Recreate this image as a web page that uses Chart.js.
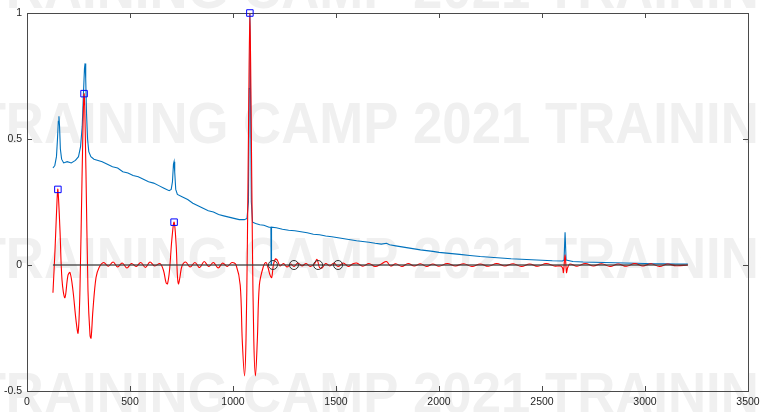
<!DOCTYPE html>
<html>
<head>
<meta charset="utf-8">
<script src="https://cdn.jsdelivr.net/npm/chart.js@4"></script>
<style>
  body { margin: 0; background: #fff; }
  #wrap { width: 761px; height: 412px; position: relative; }
</style>
</head>
<body>
<div id="wrap"><canvas id="chart"></canvas></div>
<script>
// values
const blueX = [126, 135, 143, 148, 152, 155, 158, 162, 168, 178, 195, 215, 235, 250, 260, 268, 274, 279, 282, 285, 289, 294, 300, 310, 325, 345, 365, 390, 415, 440, 465, 490, 515, 540, 565, 590, 615, 640, 665, 690, 700, 706, 711, 714, 717, 722, 730, 755, 780, 805, 830, 855, 880, 905, 930, 955, 980, 1005, 1030, 1055, 1068, 1075, 1079, 1082, 1085, 1089, 1095, 1110, 1130, 1150, 1175, 1184, 1185, 1187, 1210, 1240, 1270, 1300, 1330, 1360, 1390, 1420, 1450, 1480, 1510, 1540, 1570, 1600, 1630, 1660, 1690, 1720, 1745, 1760, 1790, 1820, 1850, 1880, 1910, 1940, 1970, 2000, 2050, 2100, 2150, 2200, 2250, 2300, 2350, 2400, 2450, 2500, 2550, 2600, 2607, 2612, 2617, 2650, 2700, 2750, 2800, 2850, 2900, 2950, 3000, 3050, 3100, 3150, 3208];
const blueY = [0.385, 0.395, 0.43, 0.50, 0.57, 0.59, 0.55, 0.46, 0.42, 0.405, 0.41, 0.405, 0.415, 0.43, 0.47, 0.55, 0.68, 0.78, 0.80, 0.74, 0.60, 0.50, 0.45, 0.43, 0.42, 0.415, 0.41, 0.40, 0.39, 0.385, 0.37, 0.365, 0.355, 0.35, 0.34, 0.33, 0.325, 0.315, 0.305, 0.295, 0.30, 0.33, 0.40, 0.41, 0.37, 0.30, 0.28, 0.27, 0.26, 0.245, 0.235, 0.225, 0.215, 0.21, 0.20, 0.195, 0.19, 0.185, 0.18, 0.18, 0.185, 0.25, 0.70, 1.0, 0.70, 0.25, 0.17, 0.165, 0.16, 0.158, 0.15, 0.15, 0.0, 0.15, 0.148, 0.142, 0.138, 0.136, 0.132, 0.128, 0.122, 0.12, 0.115, 0.112, 0.108, 0.104, 0.10, 0.096, 0.093, 0.09, 0.086, 0.083, 0.086, 0.08, 0.076, 0.072, 0.068, 0.064, 0.06, 0.057, 0.054, 0.05, 0.046, 0.042, 0.038, 0.034, 0.031, 0.028, 0.025, 0.023, 0.021, 0.019, 0.017, 0.016, 0.02, 0.13, 0.02, 0.014, 0.012, 0.011, 0.01, 0.009, 0.008, 0.007, 0.006, 0.005, 0.005, 0.004, 0.004];

const redX = [126, 136, 146, 150, 160, 170, 184, 199, 209, 223, 238, 248, 257, 267, 277, 286, 296, 306, 311, 320, 335, 350, 372, 395, 418, 440, 462, 485, 507, 530, 552, 575, 597, 620, 645, 662, 675, 682, 692, 703, 714, 724, 730, 735, 742, 752, 770, 792, 815, 838, 860, 882, 905, 928, 950, 972, 995, 1015, 1035, 1045, 1056, 1063, 1070, 1076, 1082, 1088, 1094, 1101, 1109, 1118, 1128, 1146, 1160, 1170, 1180, 1188, 1196, 1206, 1216, 1228, 1245, 1262, 1280, 1296, 1315, 1335, 1355, 1375, 1395, 1408, 1420, 1432, 1450, 1470, 1490, 1510, 1535, 1560, 1580, 1600, 1630, 1660, 1690, 1720, 1745, 1765, 1790, 1820, 1850, 1880, 1910, 1940, 1970, 2000, 2040, 2080, 2120, 2160, 2200, 2240, 2280, 2320, 2360, 2400, 2440, 2480, 2520, 2560, 2590, 2600, 2604, 2612, 2619, 2624, 2635, 2670, 2710, 2750, 2790, 2830, 2870, 2910, 2950, 2990, 3030, 3070, 3110, 3150, 3208];
const redY = [-0.11, 0.06, 0.26, 0.30, 0.14, -0.06, -0.13, -0.04, -0.03, -0.10, -0.22, -0.27, -0.10, 0.34, 0.68, 0.38, -0.10, -0.28, -0.29, -0.18, -0.05, -0.01, 0.01, -0.005, 0.012, -0.008, 0.008, -0.012, 0.006, -0.006, 0.01, -0.01, 0.012, -0.004, 0.006, -0.02, -0.07, -0.075, -0.02, 0.10, 0.17, 0.08, -0.04, -0.075, -0.05, -0.005, 0.012, -0.008, 0.01, -0.01, 0.014, -0.006, 0.01, -0.012, 0.008, -0.006, 0.01, 0.0, -0.08, -0.30, -0.44, -0.30, 0.10, 0.60, 1.0, 0.60, 0.10, -0.30, -0.44, -0.30, -0.08, -0.01, 0.01, -0.01, -0.04, -0.05, 0.0, 0.024, 0.018, -0.004, 0.006, -0.008, 0.004, -0.006, 0.008, -0.004, 0.006, -0.006, 0.004, 0.022, -0.01, -0.012, 0.006, -0.004, 0.008, -0.006, 0.008, -0.006, 0.004, 0.008, -0.005, 0.006, -0.006, 0.004, 0.014, -0.004, 0.005, -0.006, 0.006, -0.004, 0.005, -0.006, 0.004, -0.005, 0.006, -0.004, 0.005, -0.006, 0.004, -0.005, 0.006, -0.004, 0.005, -0.006, 0.004, -0.005, 0.006, -0.004, -0.004, -0.012, -0.03, 0.04, -0.03, -0.012, 0.004, -0.005, 0.006, -0.004, 0.005, -0.006, 0.004, -0.005, 0.006, -0.004, 0.005, -0.006, 0.004, -0.003, 0.0];

const zeroX = [126, 3208];
const zeroY = [0, 0];

const peakX = [150, 277, 714, 1082];
const peakY = [0.30, 0.68, 0.17, 1.0];

const circX = [1194, 1296, 1413, 1510];
const circY = [0, 0, 0, 0];

const xTicks = [0, 500, 1000, 1500, 2000, 2500, 3000, 3500];
const yTicks = [-0.5, 0, 0.5, 1];
const WM_TEXT = 'TRAINING CAMP 2021 TRAINING';

const pts = (xs, ys) => xs.map((x, i) => ({ x: x, y: ys[i] }));

const watermark = {
  id: 'watermark',
  beforeDraw(chart) {
    const ctx = chart.ctx;
    ctx.save();
    ctx.font = 'bold 57px "Liberation Sans", Arial, sans-serif';
    ctx.fillStyle = 'rgb(240,240,240)';
    const sx = 0.925;
    const lead = ctx.measureText('TRAINING CAMP ').width * sx;
    ctx.scale(sx, 1);
    [8, 143, 278, 413].forEach(by => ctx.fillText(WM_TEXT, (413 - lead) / sx, by));
    ctx.restore();
  }
};

// matlab-like box with inward ticks
const frame = {
  id: 'frame',
  beforeDatasetsDraw(chart) {
    const { ctx, chartArea: a, scales } = chart;
    ctx.save();
    ctx.strokeStyle = '#4a4a4a';
    ctx.lineWidth = 1;
    ctx.strokeRect(a.left + 0.5, a.top + 0.5, a.right - a.left, a.bottom - a.top);
    ctx.beginPath();
    xTicks.forEach(v => {
      const px = Math.round(scales.x.getPixelForValue(v)) + 0.5;
      ctx.moveTo(px, a.bottom); ctx.lineTo(px, a.bottom - 5);
      ctx.moveTo(px, a.top); ctx.lineTo(px, a.top + 5);
    });
    yTicks.forEach(v => {
      const py = Math.round(scales.y.getPixelForValue(v)) + 0.5;
      ctx.moveTo(a.left, py); ctx.lineTo(a.left + 5, py);
      ctx.moveTo(a.right, py); ctx.lineTo(a.right - 5, py);
    });
    ctx.stroke();
    ctx.restore();
  }
};

const tickFont = { family: '"Liberation Sans", Arial, sans-serif', size: 10.5 };

new Chart(document.getElementById('chart'), {
  type: 'line',
  data: {
    datasets: [
      { data: pts(blueX, blueY), borderColor: 'rgb(0,114,189)', borderWidth: 1.1, pointRadius: 0, tension: 0, order: 5 },
      { data: pts(redX, redY), borderColor: 'rgb(255,0,0)', borderWidth: 1.1, pointRadius: 0, tension: 0.35, order: 4 },
      { data: pts(zeroX, zeroY), borderColor: 'rgba(60,60,60,0.85)', borderWidth: 1.5, pointRadius: 0, order: 3 },
      { data: pts(peakX, peakY), showLine: false, pointStyle: 'rect', pointRadius: 4.6, borderColor: 'rgb(0,0,255)', backgroundColor: 'rgba(0,0,0,0)', pointBorderWidth: 1, order: 2 },
      { data: pts(circX, circY), showLine: false, pointStyle: 'circle', pointRadius: 4.5, borderColor: 'rgb(50,50,50)', backgroundColor: 'rgba(0,0,0,0)', pointBorderWidth: 1, order: 1 }
    ]
  },
  options: {
    responsive: true,
    maintainAspectRatio: false,
    animation: false,
    clip: false,
    layout: { padding: { top: 13, right: 13, left: 0, bottom: 0 } },
    plugins: { legend: { display: false }, tooltip: { enabled: false } },
    scales: {
      x: {
        type: 'linear', min: 0, max: 3500,
        afterBuildTicks: s => { s.ticks = xTicks.map(v => ({ value: v })); },
        afterFit: s => { s.height = 21; s.paddingLeft = 0; s.paddingRight = 0; },
        grid: { display: false, drawTicks: false },
        border: { display: false },
        ticks: { font: tickFont, color: '#262626', padding: 5, maxRotation: 0, callback: v => String(v) }
      },
      y: {
        min: -0.5, max: 1,
        afterBuildTicks: s => { s.ticks = yTicks.map(v => ({ value: v })); },
        afterFit: s => { s.width = 27; s.paddingTop = 0; s.paddingBottom = 0; },
        grid: { display: false, drawTicks: false },
        border: { display: false },
        ticks: { font: tickFont, color: '#262626', padding: 5, callback: v => String(v) }
      }
    }
  },
  plugins: [watermark, frame]
});
</script>
</body>
</html>
